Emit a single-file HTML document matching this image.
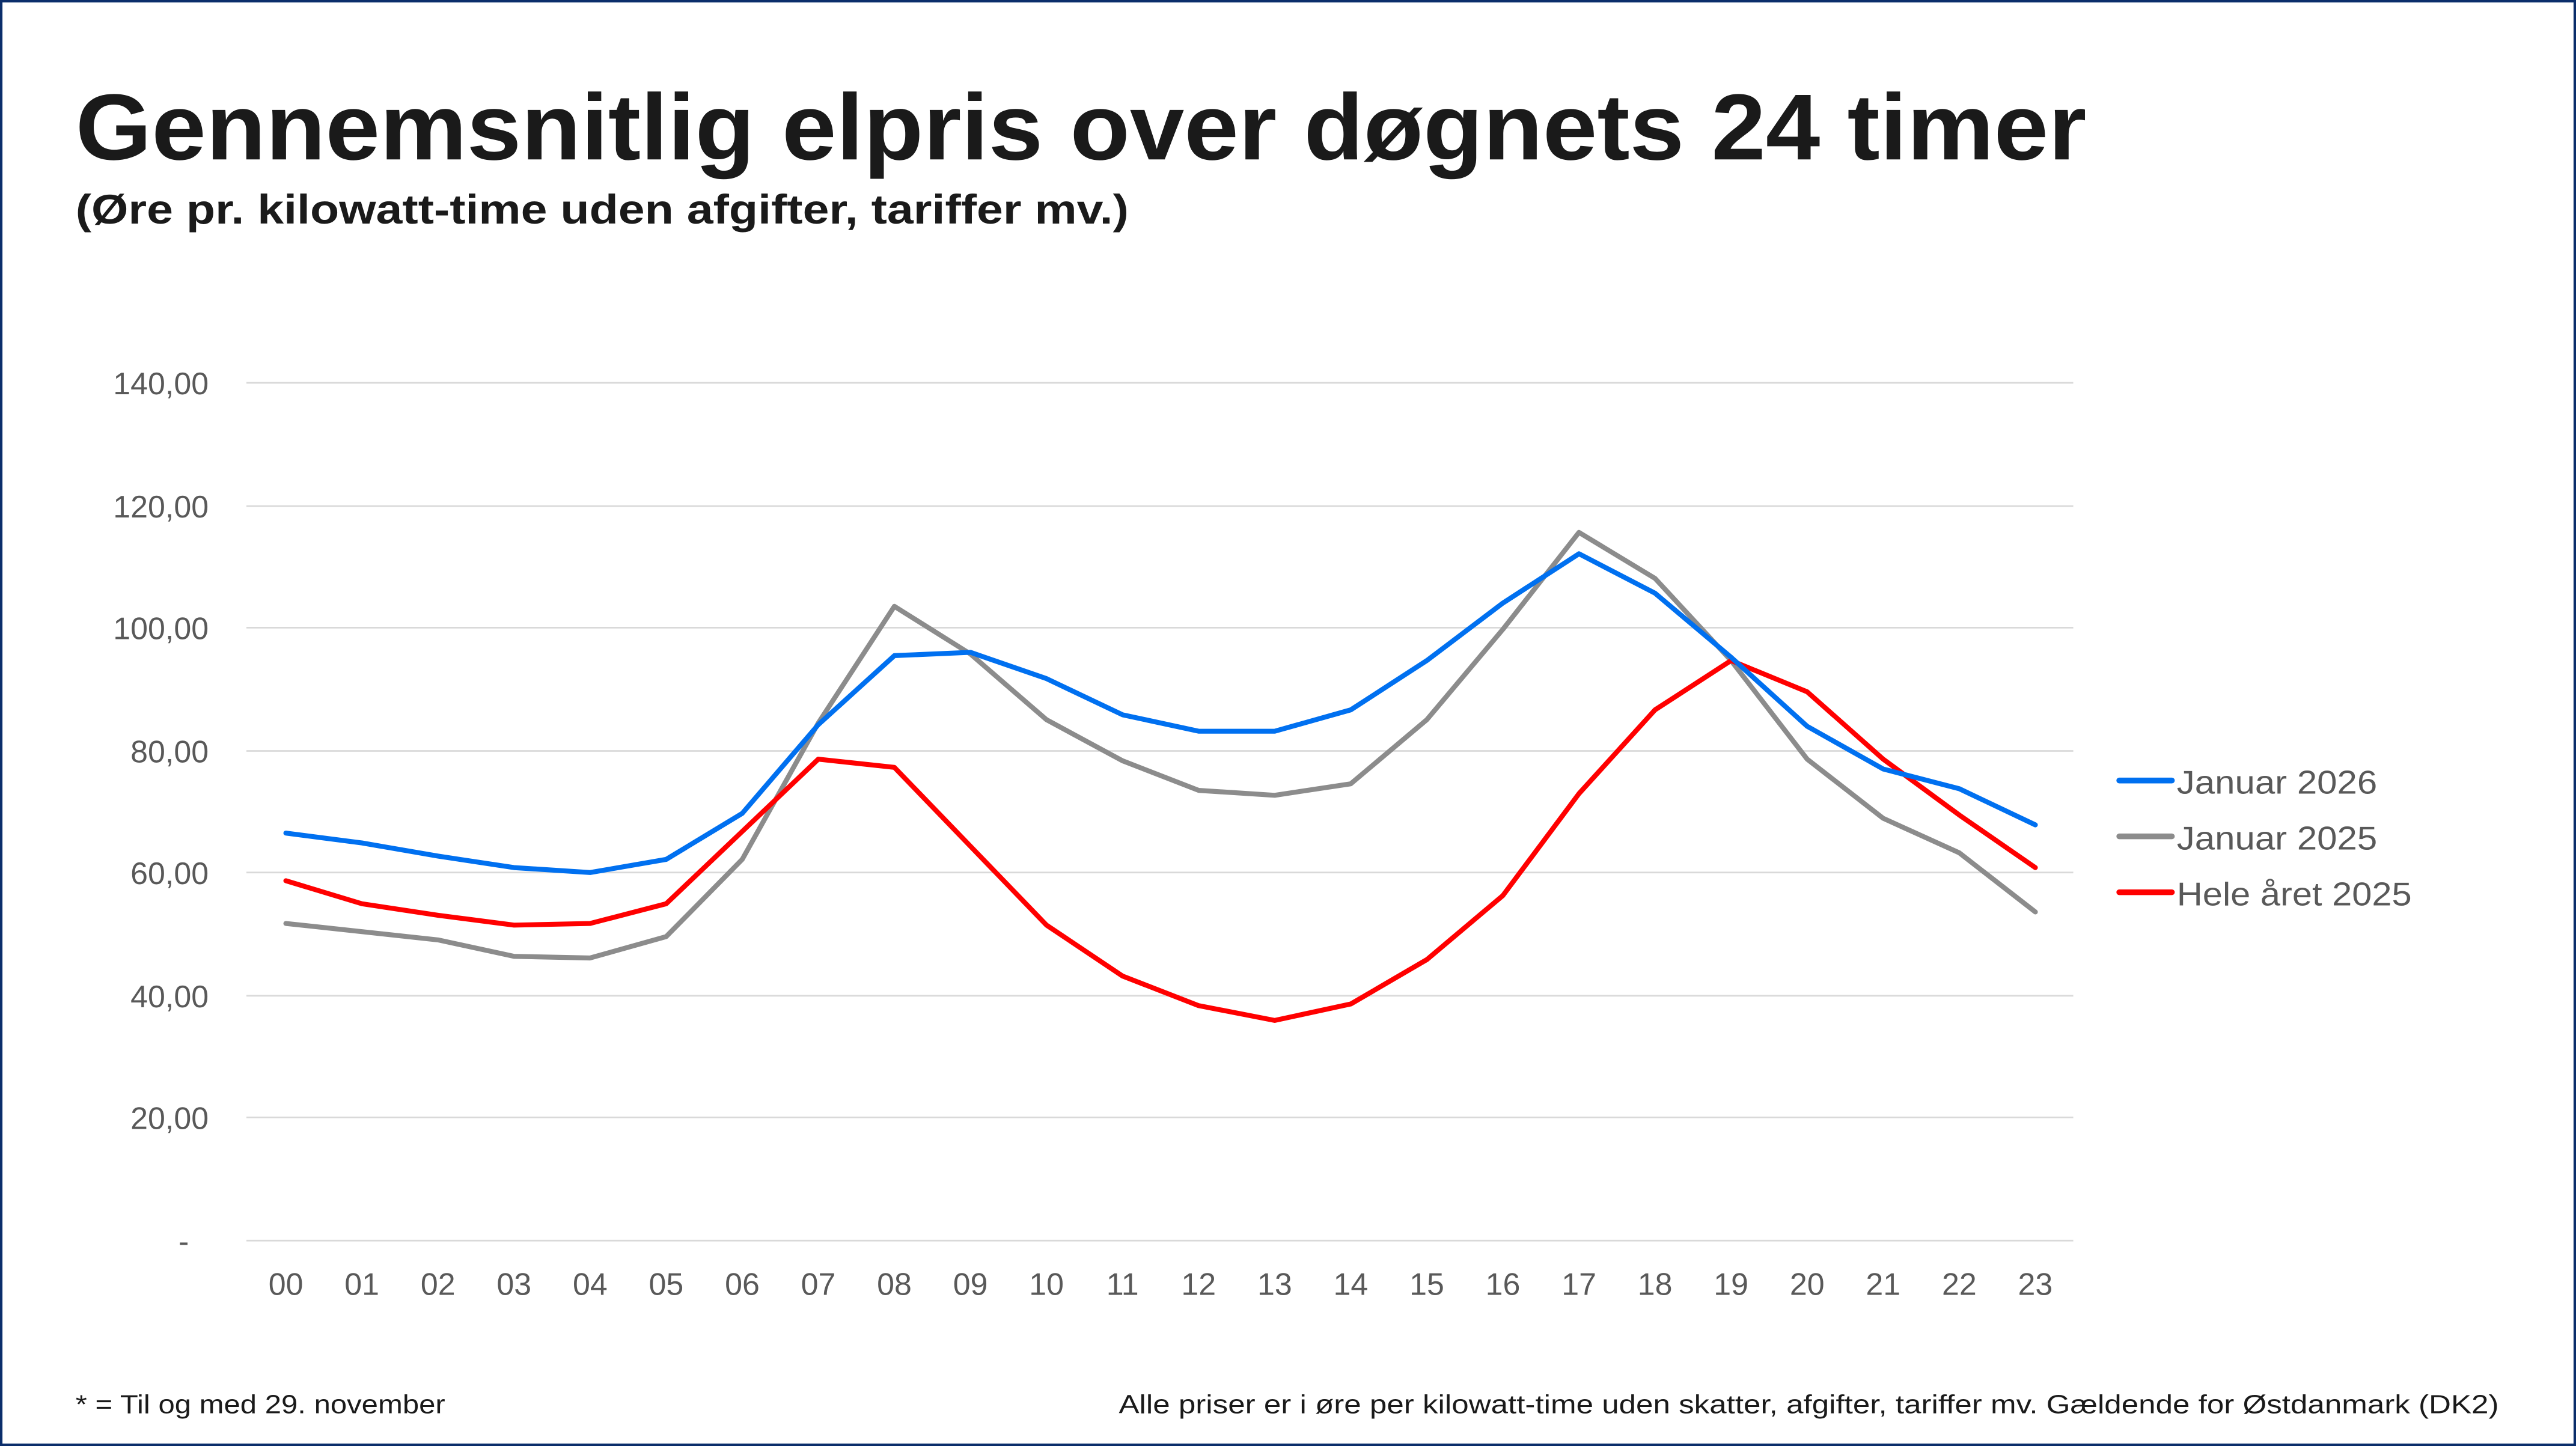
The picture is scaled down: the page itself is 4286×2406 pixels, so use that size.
<!DOCTYPE html>
<html><head><meta charset="utf-8"><style>
html,body{margin:0;padding:0;background:#fff;}
svg{display:block;}
</style></head><body>
<svg width="4286" height="2406" viewBox="0 0 1568 880" preserveAspectRatio="none" xmlns="http://www.w3.org/2000/svg" font-family="Liberation Sans, sans-serif">
<rect x="0.7" y="0.7" width="1566.6" height="878.6" fill="#fff" stroke="#0b2e6b" stroke-width="1.6"/>
<text x="46" y="97" font-size="57" font-weight="bold" fill="#1a1a1a" textLength="1224" lengthAdjust="spacingAndGlyphs">Gennemsnitlig elpris over døgnets 24 timer</text>
<text x="46" y="136" font-size="25" font-weight="bold" fill="#1a1a1a" textLength="641" lengthAdjust="spacingAndGlyphs">(Øre pr. kilowatt-time uden afgifter, tariffer mv.)</text>
<g stroke="#d9d9d9" stroke-width="1">
<line x1="150" x2="1262" y1="233" y2="233"/><line x1="150" x2="1262" y1="308" y2="308"/><line x1="150" x2="1262" y1="382" y2="382"/><line x1="150" x2="1262" y1="457" y2="457"/><line x1="150" x2="1262" y1="531" y2="531"/><line x1="150" x2="1262" y1="606" y2="606"/><line x1="150" x2="1262" y1="680" y2="680"/><line x1="150" x2="1262" y1="755" y2="755"/>
</g>
<g font-size="19" fill="#595959" text-anchor="end">
<text x="127" y="240">140,00</text><text x="127" y="315">120,00</text><text x="127" y="389">100,00</text><text x="127" y="464">80,00</text><text x="127" y="538">60,00</text><text x="127" y="613">40,00</text><text x="127" y="687">20,00</text><text x="115" y="762">-</text>
</g>
<g font-size="19" fill="#595959" text-anchor="middle">
<text x="174" y="788">00</text><text x="220.3" y="788">01</text><text x="266.6" y="788">02</text><text x="312.9" y="788">03</text><text x="359.2" y="788">04</text><text x="405.5" y="788">05</text><text x="451.8" y="788">06</text><text x="498.1" y="788">07</text><text x="544.4" y="788">08</text><text x="590.7" y="788">09</text><text x="637" y="788">10</text><text x="683.3" y="788">11</text><text x="729.6" y="788">12</text><text x="775.9" y="788">13</text><text x="822.2" y="788">14</text><text x="868.5" y="788">15</text><text x="914.8" y="788">16</text><text x="961.1" y="788">17</text><text x="1007.4" y="788">18</text><text x="1053.7" y="788">19</text><text x="1100" y="788">20</text><text x="1146.3" y="788">21</text><text x="1192.6" y="788">22</text><text x="1238.9" y="788">23</text>
</g>
<g fill="none" stroke-width="3" stroke-linejoin="round" stroke-linecap="round">
<polyline stroke="#8c8c8c" points="174,562 220.3,567 266.6,572 312.9,582 359.2,583 405.5,570 451.8,523 498.1,440 544.4,369 590.7,398 637,438 683.3,463 729.6,481 775.9,484 822.2,477 868.5,438 914.8,383 961.1,324 1007.4,352 1053.7,402 1100,462 1146.3,498 1192.6,519 1238.9,555"/>
<polyline stroke="#ff0000" points="174,536 220.3,550 266.6,557 312.9,563 359.2,562 405.5,550 451.8,506 498.1,462 544.4,467 590.7,515 637,563 683.3,594 729.6,612 775.9,621 822.2,611 868.5,584 914.8,545 961.1,483 1007.4,432 1053.7,402 1100,421 1146.3,462 1192.6,496 1238.9,528"/>
<polyline stroke="#0070f0" points="174,507 220.3,513 266.6,521 312.9,528 359.2,531 405.5,523 451.8,495 498.1,441 544.4,399 590.7,397 637,413 683.3,435 729.6,445 775.9,445 822.2,432 868.5,402 914.8,367 961.1,337 1007.4,361 1053.7,400 1100,442 1146.3,468 1192.6,480 1238.9,502"/>
</g>
<g stroke-width="3.5" stroke-linecap="round">
<line x1="1290" x2="1322" y1="475" y2="475" stroke="#0070f0"/>
<line x1="1290" x2="1322" y1="509" y2="509" stroke="#8c8c8c"/>
<line x1="1290" x2="1322" y1="543" y2="543" stroke="#ff0000"/>
</g>
<g font-size="20" fill="#595959">
<text x="1325" y="483" textLength="122" lengthAdjust="spacingAndGlyphs">Januar 2026</text>
<text x="1325" y="517" textLength="122" lengthAdjust="spacingAndGlyphs">Januar 2025</text>
<text x="1325" y="551" textLength="143" lengthAdjust="spacingAndGlyphs">Hele året 2025</text>
</g>
<text x="46" y="860" font-size="16" fill="#1a1a1a" textLength="225" lengthAdjust="spacingAndGlyphs">* = Til og med 29. november</text>
<text x="681" y="860" font-size="16" fill="#1a1a1a" textLength="840" lengthAdjust="spacingAndGlyphs">Alle priser er i øre per kilowatt-time uden skatter, afgifter, tariffer mv. Gældende for Østdanmark (DK2)</text>
</svg>
</body></html>
